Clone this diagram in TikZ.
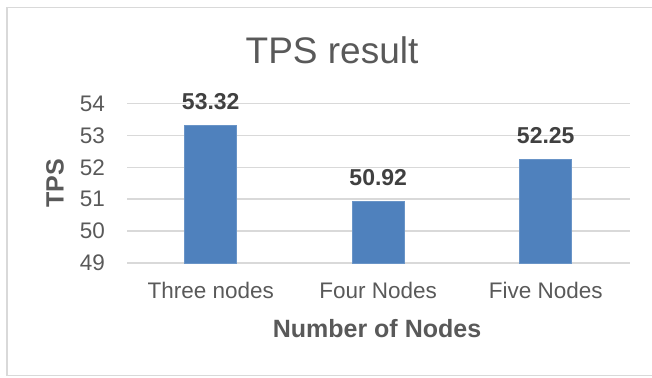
\documentclass[tikz,border=0pt]{standalone}
\usepackage{fontspec}
\setmainfont{Liberation Sans}
\usepackage{tikz}
\usetikzlibrary{positioning}

\definecolor{barblue}{HTML}{4F81BD}
\definecolor{gridgray}{HTML}{D9D9D9}
\definecolor{labelgray}{HTML}{595959}
\definecolor{valuegray}{HTML}{404040}

\begin{document}
\begin{tikzpicture}[
        x=1pt, y=1pt,
        frame/.style={
            draw=gridgray,
            line width=1.2pt
        },
        gridline/.style={
            draw=gridgray,
            line width=1.4pt
        },
        bar/.style={
            fill=barblue,
            draw=barblue!85!white,
            line width=0.6pt
        },
        ticklabel/.style={
            font=\fontsize{22.5}{27}\selectfont,
            text=labelgray,
            anchor=east,
            inner sep=0pt
        },
        catlabel/.style={
            font=\fontsize{22.5}{27}\selectfont,
            text=labelgray,
            anchor=base,
            inner sep=0pt
        },
        value/.style={
            font=\fontsize{23}{27}\selectfont\bfseries,
            text=valuegray,
            anchor=base,
            inner sep=0pt
        },
        axistitle/.style={
            font=\fontsize{25}{30}\selectfont\bfseries,
            text=labelgray,
            inner sep=0pt
        },
        charttitle/.style={
            font=\fontsize{37}{44}\selectfont,
            text=labelgray,
            anchor=base,
            inner sep=0pt
        }
    ]
    \useasboundingbox (0,0) rectangle (652,377);
    \draw[frame] (652,369.5) -- (7,369.5) -- (7,1.5) -- (652,1.5);

    \node[charttitle] (title) at (332,313.7) {TPS result};

    \foreach \v in {49,...,54} {
        \draw[gridline] (127,{114+(\v-49)*31.9}) -- (629.5,{114+(\v-49)*31.9});
        \node[ticklabel] (tick\v) at (105,{114+(\v-49)*31.9}) {\v};
    }

    \foreach \i/\val/\cat in {1/53.32/Three nodes, 2/50.92/Four Nodes, 3/52.25/Five Nodes} {
        \draw[bar] ({127+(\i-0.5)*167.5-26},114) rectangle ({127+(\i-0.5)*167.5+26},{114+(\val-49)*31.9});
        \node[value] (val\i) at ({127+(\i-0.5)*167.5},{114+(\val-49)*31.9+16}) {\val};
        \node[catlabel] (cat\i) at ({127+(\i-0.5)*167.5},78.7) {\cat};
    }

    \node[axistitle, rotate=90] (ytitle) at (55,194) {TPS};
    \node[axistitle, anchor=base] (xtitle) at (377,40) {Number of Nodes};
\end{tikzpicture}
\end{document}
